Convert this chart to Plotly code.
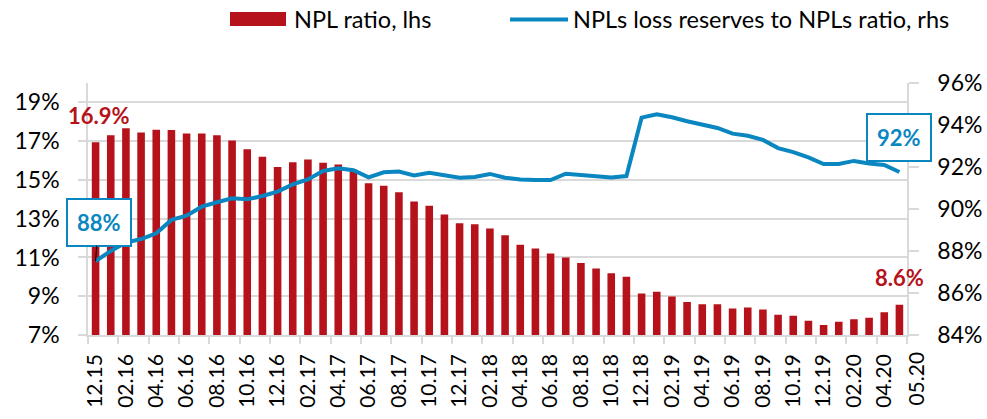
import plotly.graph_objects as go

# ---------------- data ----------------
npl_ratio = [16.94, 17.30, 17.66, 17.45, 17.59, 17.58, 17.39, 17.39, 17.30, 17.03,
             16.58, 16.19, 15.67, 15.91, 16.05, 15.88, 15.79, 15.53, 14.83, 14.70,
             14.37, 13.89, 13.67, 13.21, 12.76, 12.71, 12.50, 12.14, 11.66, 11.46,
             11.20, 11.00, 10.72, 10.43, 10.19, 10.00, 9.14, 9.23, 8.99, 8.70,
             8.59, 8.58, 8.37, 8.42, 8.32, 8.04, 7.99, 7.74, 7.51, 7.68,
             7.81, 7.89, 8.18, 8.56]
reserve_ratio = [87.52, 88.00, 88.40, 88.57, 88.84, 89.48, 89.68, 90.11, 90.32, 90.51,
                 90.46, 90.62, 90.83, 91.17, 91.41, 91.81, 91.94, 91.85, 91.51, 91.75,
                 91.78, 91.60, 91.73, 91.60, 91.49, 91.52, 91.67, 91.49, 91.40, 91.38,
                 91.38, 91.68, 91.63, 91.56, 91.50, 91.57, 94.35, 94.51, 94.37, 94.18,
                 94.01, 93.86, 93.59, 93.49, 93.29, 92.90, 92.71, 92.46, 92.14, 92.14,
                 92.29, 92.17, 92.10, 91.76]
tick_labels = ["12.15", "02.16", "04.16", "06.16", "08.16", "10.16", "12.16",
               "02.17", "04.17", "06.17", "08.17", "10.17", "12.17",
               "02.18", "04.18", "06.18", "08.18", "10.18", "12.18",
               "02.19", "04.19", "06.19", "08.19", "10.19", "12.19",
               "02.20", "04.20", "05.20"]
left_ticks = [7, 9, 11, 13, 15, 17, 19]
right_ticks = [84, 86, 88, 90, 92, 94, 96]
series_names = ["NPL ratio, lhs", "NPLs loss reserves to NPLs ratio, rhs"]

# ---------------- style ----------------
RED = "#B5121B"
BLUE = "#0A86C0"
GRID = "#D9D9D9"
FONT = "Lato"
W, H = 987, 419
ML, MR, MT, MB = 88, 80, 83, 84
PW, PH = W - ML - MR, H - MT - MB

n = len(npl_ratio)
x = list(range(n))
xrange_ = [-0.5, n - 0.5]
label_pos = [2 * i for i in range(len(tick_labels))]
in_pos = [p for p in label_pos if p <= n - 1]
in_txt = [t for p, t in zip(label_pos, tick_labels) if p <= n - 1]
out = [(p, t) for p, t in zip(label_pos, tick_labels) if p > n - 1]
boundaries = [b - 0.5 for b in range(0, n + 1, 2)]


def px(xp):
    return (xp - ML) / PW


def py(yp):
    return (H - MB - yp) / PH


def xdata_to_paper(v):
    return (v - xrange_[0]) / (xrange_[1] - xrange_[0])


fig = go.Figure()
fig.add_trace(go.Bar(x=x, y=npl_ratio, marker=dict(color=RED, line=dict(width=0)),
                     width=0.5, name=series_names[0], yaxis="y", xaxis="x"))
fig.add_trace(go.Scatter(x=x, y=reserve_ratio, mode="lines", name=series_names[1],
                         line=dict(color=BLUE, width=4), yaxis="y2", xaxis="x"))
fig.add_trace(go.Scatter(x=[], y=[], xaxis="x2", yaxis="y", showlegend=False,
                         hoverinfo="skip"))

XFONT = dict(size=21, family=FONT, color="black")
YFONT = dict(size=23, family=FONT, color="black")

fig.update_layout(
    width=W, height=H,
    margin=dict(l=ML, r=MR, t=MT, b=MB, autoexpand=False),
    paper_bgcolor="white", plot_bgcolor="white",
    showlegend=False,
    font=dict(family=FONT, color="black", size=22),
    xaxis=dict(range=xrange_, tickmode="array", tickvals=in_pos, ticktext=in_txt,
               tickangle=-90, ticks="", showgrid=False, zeroline=False,
               showline=True, linecolor=GRID, linewidth=1.5, automargin=False,
               tickfont=XFONT, ticklabelstandoff=9),
    xaxis2=dict(range=xrange_, overlaying="x", anchor="y", side="bottom",
                tickmode="array", tickvals=boundaries, ticks="outside", ticklen=8,
                tickwidth=1.5, tickcolor=GRID, showticklabels=False,
                showgrid=False, zeroline=False, showline=False, automargin=False),
    yaxis=dict(range=[7, 20], tickmode="array", tickvals=left_ticks,
               ticktext=[f"{v}%" for v in left_ticks],
               showgrid=True, gridcolor=GRID, gridwidth=1.5,
               ticks="outside", ticklen=8, tickcolor=GRID, tickwidth=1.5,
               showline=True, linecolor=GRID, linewidth=1.5, zeroline=False,
               tickfont=YFONT, ticklabelstandoff=14, automargin=False),
    yaxis2=dict(range=[84, 96], overlaying="y", side="right", anchor="x",
                tickmode="array", tickvals=right_ticks,
                ticktext=[f"{v}%" for v in right_ticks],
                showgrid=False, zeroline=False, showline=True, linecolor=GRID,
                linewidth=1.5, ticks="outside", ticklen=10, tickcolor=GRID,
                tickwidth=1.5, tickfont=YFONT, ticklabelstandoff=14,
                automargin=False),
)

ann = []
# last tick label sits one step beyond the last bar (outside the axis range)
for p, t in out:
    ann.append(dict(x=xdata_to_paper(p), y=0, xref="paper", yref="paper", text=t,
                    showarrow=False, textangle=-90, xanchor="center", yanchor="top",
                    yshift=-15, font=XFONT))
# data labels
ann.append(dict(x=0, y=npl_ratio[0], xref="x", yref="y",
                text=f"{npl_ratio[0]:.1f}%", showarrow=False, yshift=27, xshift=3,
                font=dict(size=22, family=FONT, color=RED, weight="bold")))
ann.append(dict(x=n - 1, y=npl_ratio[-1], xref="x", yref="y",
                text=f"{npl_ratio[-1]:.1f}%", showarrow=False, yshift=27,
                font=dict(size=22, family=FONT, color=RED, weight="bold")))
ann.append(dict(x=0, y=reserve_ratio[0], xref="x", yref="y2",
                text=f"{round(reserve_ratio[0])}%", showarrow=True, ax=3, ay=-39,
                arrowhead=0, arrowwidth=1, arrowcolor="black",
                bordercolor=BLUE, borderwidth=2, borderpad=9, bgcolor="white",
                font=dict(size=22, family=FONT, color=BLUE, weight="bold")))
ann.append(dict(x=n - 1, y=reserve_ratio[-1], xref="x", yref="y2",
                text=f"{round(reserve_ratio[-1])}%", showarrow=False, yshift=35,
                bordercolor=BLUE, borderwidth=2, borderpad=9, bgcolor="white",
                font=dict(size=22, family=FONT, color=BLUE, weight="bold")))
# manual legend
ann.append(dict(x=px(292), y=py(19), xref="paper", yref="paper", text=series_names[0],
                showarrow=False, xanchor="left", yanchor="middle",
                font=dict(size=23.5, family=FONT, color="black")))
ann.append(dict(x=px(571), y=py(19), xref="paper", yref="paper", text=series_names[1],
                showarrow=False, xanchor="left", yanchor="middle",
                font=dict(size=23.5, family=FONT, color="black")))
fig.update_layout(annotations=ann)

fig.update_layout(shapes=[
    dict(type="rect", xref="paper", yref="paper", x0=px(230), x1=px(286),
         y0=py(26), y1=py(12), fillcolor=RED, line=dict(width=0)),
    dict(type="line", xref="paper", yref="paper", x0=px(510), x1=px(568),
         y0=py(19.5), y1=py(19.5), line=dict(color=BLUE, width=4)),
])

fig.write_html("out.html", config={"displayModeBar": False},
               post_script="document.body.style.margin='0';"
                           "document.body.style.overflow='hidden';")
